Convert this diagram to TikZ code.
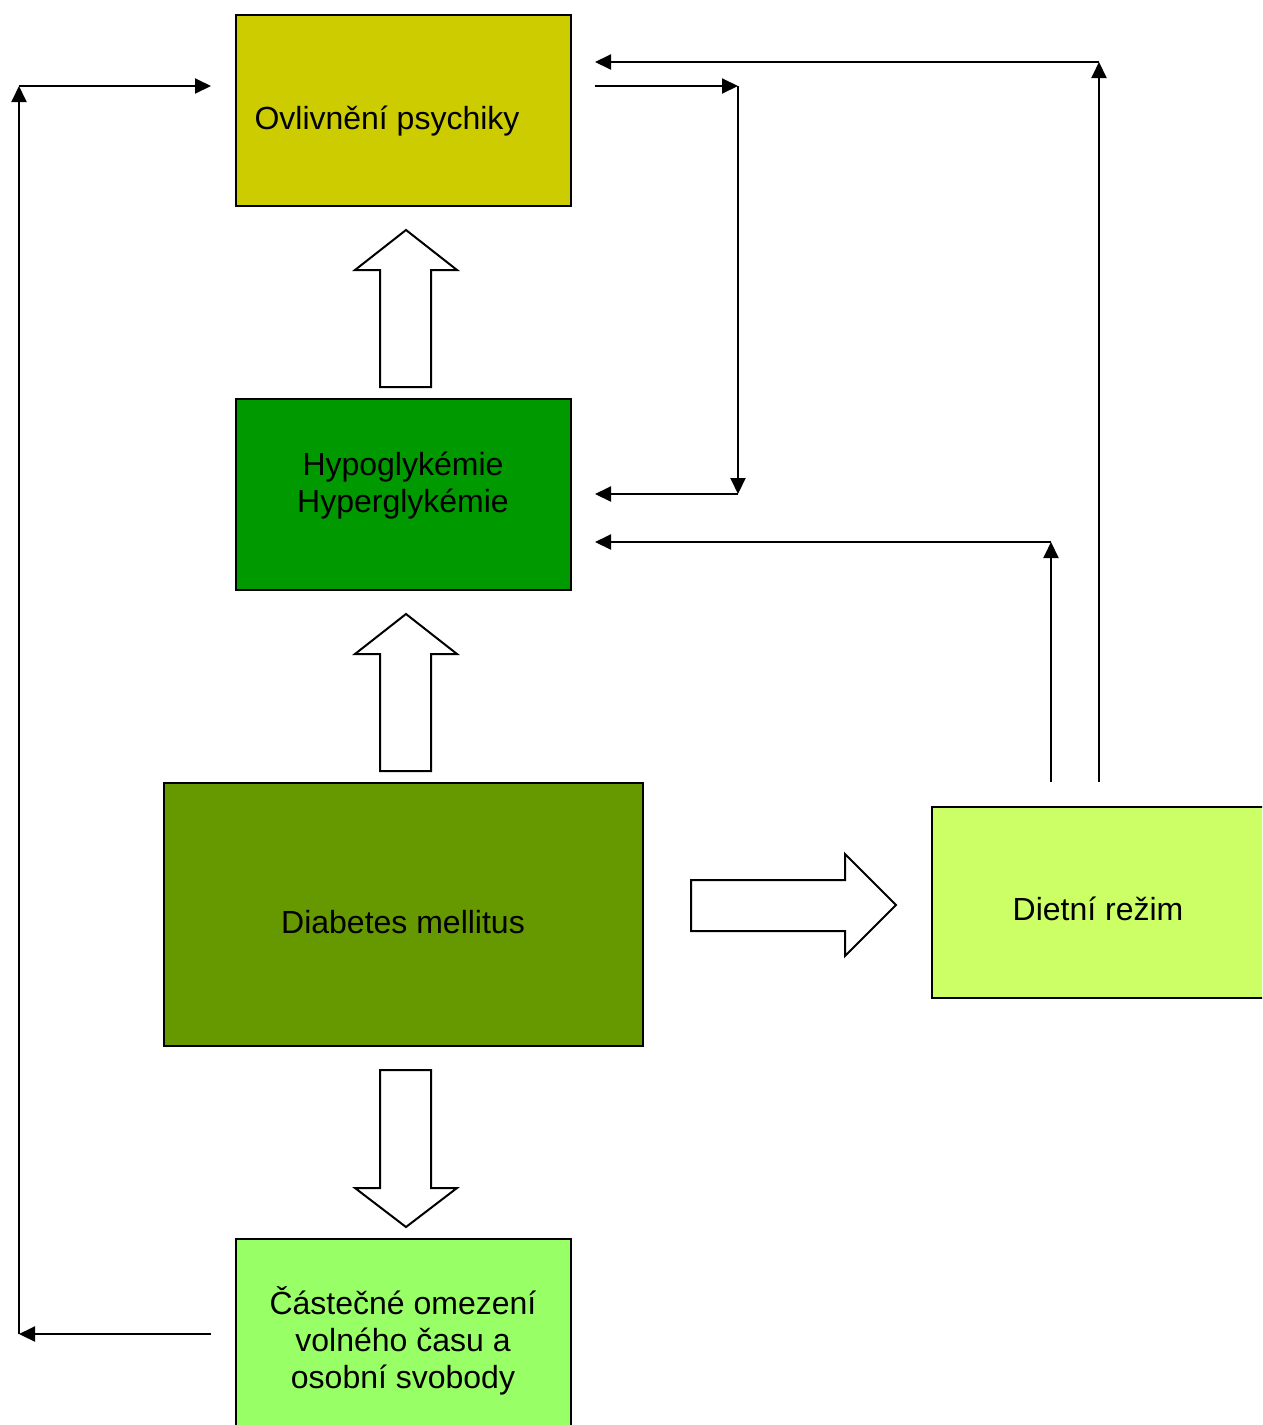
\documentclass[tikz,border=0pt]{standalone}
\usepackage{fontspec}
\setmainfont{Liberation Sans}
\usetikzlibrary{arrows.meta}
\definecolor{cPsych}{HTML}{CCCC00}
\definecolor{cGly}{HTML}{009900}
\definecolor{cDM}{HTML}{669900}
\definecolor{cDiet}{HTML}{CCFF66}
\definecolor{cFree}{HTML}{99FF66}
\tikzset{
  box/.style={draw=black, line width=2pt, inner sep=0pt, anchor=north west},
  lbl/.style={font=\fontsize{32}{37}\selectfont, align=center, inner sep=0pt},
  conn/.style={line width=2pt, -{Triangle[length=16pt,width=15pt]}},
  blockarrow/.style={draw=black, fill=white, line width=2pt, line join=miter},
}
\begin{document}
\begin{tikzpicture}[x=1pt,y=-1pt]
\clip (0,0) rectangle (1262,1425);
\fill[white] (0,0) rectangle (1262,1425);

% boxes
\node[box, fill=cPsych, minimum width=335pt, minimum height=191pt] (psych) at (235,14) {};
\node[box, fill=cGly,   minimum width=335pt, minimum height=191pt] (gly)   at (235,398) {};
\node[box, fill=cDM,    minimum width=479pt, minimum height=263pt] (dm)    at (163,782) {};
\node[box, fill=cDiet,  minimum width=360pt, minimum height=191pt] (diet)  at (931,806) {};
\node[box, fill=cFree,  minimum width=335pt, minimum height=220pt] (free)  at (235,1238) {};

% labels
\node[lbl] (tpsych) at (387,121) {Ovlivnění psychiky};
\node[lbl] (tgly)   at (403,486) {Hypoglykémie\\Hyperglykémie};
\node[lbl] (tdm)    at (403,922) {Diabetes mellitus};
\node[lbl] (tdiet)  at (1098,909) {Dietní režim};
\node[lbl] (tfree)  at (403,1341) {Částečné omezení\\volného času a\\osobní svobody};

% block arrows
\draw[blockarrow] (380,387) -- (380,270) -- (355,270) -- (406,230) -- (457,270) -- (431,270) -- (431,387) -- cycle;
\draw[blockarrow] (380,771) -- (380,654) -- (355,654) -- (406,614) -- (457,654) -- (431,654) -- (431,771) -- cycle;
\draw[blockarrow] (380,1070) -- (380,1188) -- (355,1188) -- (406,1227) -- (457,1188) -- (431,1188) -- (431,1070) -- cycle;
\draw[blockarrow] (691,880) -- (845,880) -- (845,854) -- (896,905) -- (845,956) -- (845,931) -- (691,931) -- cycle;

% connector points
\coordinate (l1) at (211,1334);
\coordinate (l2) at (19,1334);
\coordinate (l3) at (19,86);
\coordinate (l4) at (211,86);
\coordinate (r1) at (595,86);
\coordinate (r2) at (738,86);
\coordinate (r3) at (738,494);
\coordinate (r4) at (595,494);
\coordinate (d1) at (1051,782);
\coordinate (d2) at (1051,542);
\coordinate (d3) at (595,542);
\coordinate (e1) at (1099,782);
\coordinate (e2) at (1099,62);
\coordinate (e3) at (595,62);

% connectors
\draw[conn] (l1) -- (l2);
\draw[conn] (l2) -- (l3);
\draw[conn] (l3) -- (l4);
\draw[conn] (r1) -- (r2);
\draw[conn] (r2) -- (r3);
\draw[conn] (r3) -- (r4);
\draw[conn] (d1) -- (d2);
\draw[conn] (d2) -- (d3);
\draw[conn] (e1) -- (e2);
\draw[conn] (e2) -- (e3);
\end{tikzpicture}
\end{document}
